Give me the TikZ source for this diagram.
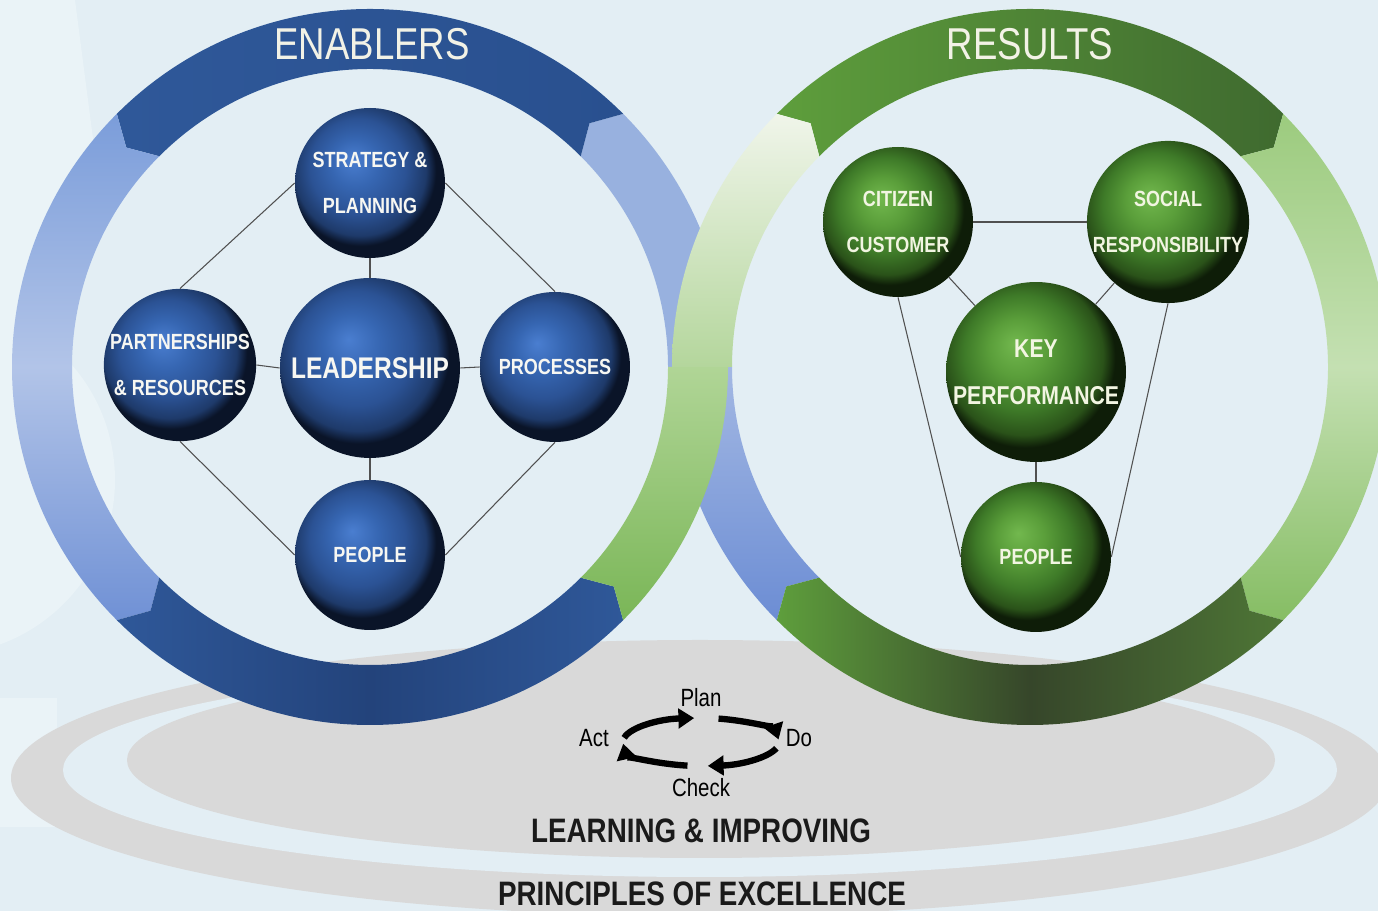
\documentclass[tikz,border=0pt]{standalone}
\usepackage{fontspec}
\newfontfamily\narrowfont[FakeStretch=0.82]{Liberation Sans}
\usepackage{xcolor}
\usetikzlibrary{calc,positioning,arrows.meta}

\definecolor{bgcol}{HTML}{E3EEF4}
\definecolor{markcol}{HTML}{EAF3F7}
\definecolor{basegray}{HTML}{D9D9D9}
\definecolor{linkgray}{HTML}{505050}
\definecolor{titletext}{HTML}{F2F2E6}
\definecolor{spheretext}{HTML}{F7F7F2}
\definecolor{spheretextg}{HTML}{F2F5E2}
\definecolor{basetext}{HTML}{1A1A1A}
% sphere colours
\definecolor{sbhi}{HTML}{4A7ED0}
\definecolor{sbmid}{HTML}{3666B2}
\definecolor{sbmain}{HTML}{2B5294}
\definecolor{sbdeep}{HTML}{1E3A6A}
\definecolor{sbedge}{HTML}{0A1428}
\definecolor{sghi}{HTML}{72B84E}
\definecolor{sgmid}{HTML}{5A9E3A}
\definecolor{sgmain}{HTML}{3E7A28}
\definecolor{sgdeep}{HTML}{2A5219}
\definecolor{sgedge}{HTML}{0E1D08}
% ring colours
\definecolor{bdarkA}{HTML}{2F5899}
\definecolor{bdarkB}{HTML}{23437B}
\definecolor{bdarkC}{HTML}{29508F}
\definecolor{blightA}{HTML}{7B9DDA}
\definecolor{blightB}{HTML}{B2C4E8}
\definecolor{blightC}{HTML}{7091D5}
\definecolor{bupper}{HTML}{98B1DF}
\definecolor{blowA}{HTML}{A3B8E3}
\definecolor{blowB}{HTML}{6C8DD4}
\definecolor{gdarkA}{HTML}{5E9E3C}
\definecolor{gdarkB}{HTML}{3F6A2F}
\definecolor{gdarkC}{HTML}{36462A}
\definecolor{gdarkD}{HTML}{4E7636}
\definecolor{glightA}{HTML}{9CCB7E}
\definecolor{glightB}{HTML}{C4E0B2}
\definecolor{glightC}{HTML}{86BD64}
\definecolor{gupA}{HTML}{F0F5EA}
\definecolor{gupB}{HTML}{B4D69C}
\definecolor{glowA}{HTML}{B0D596}
\definecolor{glowB}{HTML}{7AB657}

\pgfdeclareradialshading{bluesph}{\pgfpoint{-6bp}{8bp}}{%
  color(0bp)=(sbhi); color(8bp)=(sbmid); color(16bp)=(sbmain);
  color(22bp)=(sbdeep); color(25bp)=(sbedge); color(50bp)=(sbedge)}
\pgfdeclareradialshading{greensph}{\pgfpoint{-6bp}{8bp}}{%
  color(0bp)=(sghi); color(8bp)=(sgmid); color(16bp)=(sgmain);
  color(22bp)=(sgdeep); color(25bp)=(sgedge); color(50bp)=(sgedge)}

% ring geometry (picture units)
\def\ringout{358}
\def\ringin{298}
\def\ringmid{328}
% #1 fill, #2 centre, #3 from, #4 to, #5 notch offset, #6 tip offset
\newcommand{\ringseg}[6]{%
  \pgfmathsetmacro{\segtip}{#4+(#6)}%
  \pgfmathsetmacro{\segnotch}{#3+(#5)}%
  \path[#1] ($(#2)+(#3:\ringout)$) arc[start angle=#3, end angle=#4, radius=\ringout]
    -- ($(#2)+(\segtip:\ringmid)$) -- ($(#2)+(#4:\ringin)$)
    arc[start angle=#4, end angle=#3, radius=\ringin]
    -- ($(#2)+(\segnotch:\ringmid)$) -- cycle;}

\begin{document}
\begin{tikzpicture}[x=0.02cm, y=0.02cm,
	sphere/.style = {circle, inner sep=0pt, minimum size=3cm, align=center,
		font=\narrowfont\bfseries\fontsize{12.5}{26}\selectfont},
	bluesphere/.style = {sphere, shade, shading=bluesph, text=spheretext},
	greensphere/.style = {sphere, shade, shading=greensph, text=spheretextg},
	bigsphere/.style = {minimum size=3.6cm},
	link/.style = {draw=linkgray, line width=0.6pt},
	ringtitle/.style = {font=\narrowfont\fontsize{25.4}{30}\selectfont,
		text=titletext, anchor=base},
	pdcalabel/.style = {font=\narrowfont\fontsize{14.2}{17}\selectfont,
		anchor=base, inner sep=1pt},
	pdcaarrow/.style = {line width=3.6pt, -{Triangle[length=9pt,width=11pt]}},
	basetitle/.style = {font=\narrowfont\bfseries\fontsize{19.3}{23}\selectfont,
		text=basetext, anchor=base}]

	% background and faint watermark
	\fill[bgcol] (0,0) rectangle (1378,911);
	\useasboundingbox (0,0) rectangle (1378,911);
	\clip (0,0) rectangle (1378,911);
	\fill[markcol] (0,911) -- (75,911) -- (105,680) -- (0,545) -- cycle;
	\fill[markcol] (-60,431) circle[radius=175];
	\fill[markcol] (0,84) rectangle (57,213);

	% base ellipses
	\fill[basegray] (700,133) ellipse[x radius=689, y radius=138];
	\fill[bgcol] (700,141) ellipse[x radius=637, y radius=107];
	\fill[basegray] (701,151) ellipse[x radius=574, y radius=98];

	% rings
	\coordinate (L) at (370,544);
	\coordinate (R) at (1030,544);
	% blue strand (under)
	\ringseg{fill=bupper}{L}{0}{45}{0}{3}
	\ringseg{top color=blowA, bottom color=blowB}{R}{225}{180}{-3}{0}
	% enablers ring
	\ringseg{left color=bdarkA, right color=bdarkC}{L}{45}{135}{3}{3}
	\ringseg{top color=blightA, bottom color=blightC, middle color=blightB}{L}{135}{225}{3}{3}
	\ringseg{left color=bdarkA, right color=bdarkA, middle color=bdarkB}{L}{225}{315}{3}{3}
	% results ring
	\ringseg{left color=gdarkA, right color=gdarkB}{R}{135}{45}{-3}{-3}
	\ringseg{top color=glightA, bottom color=glightC, middle color=glightB}{R}{45}{-45}{-3}{-3}
	\ringseg{left color=gdarkA, right color=gdarkD, middle color=gdarkC}{R}{-45}{-135}{-3}{-3}
	% green strand (over)
	\ringseg{top color=glowA, bottom color=glowB}{L}{-45}{0}{3}{0}
	\ringseg{top color=gupA, bottom color=gupB}{R}{180}{135}{0}{-3}

	\node[ringtitle] (enablers) at (372,851) {ENABLERS};
	\node[ringtitle] (results) at (1030,851) {RESULTS};

	% enablers
	\node[bluesphere] (strat) at (370,728) {STRATEGY \&\\PLANNING};
	\node[bluesphere, bigsphere, font=\narrowfont\bfseries\fontsize{17}{20}\selectfont]
		(lead) at (370,543) {LEADERSHIP};
	\node[bluesphere] (partner) at (180,546) {PARTNERSHIPS\\\& RESOURCES};
	\node[bluesphere] (proc) at (555,544) {PROCESSES};
	\node[bluesphere] (peopleL) at (370,356) {PEOPLE};

	\draw[link] (strat.west) -- (partner.north);
	\draw[link] (strat.east) -- (proc.north);
	\draw[link] (partner.south) -- (peopleL.west);
	\draw[link] (proc.south) -- (peopleL.east);
	\draw[link] (strat.south) -- (lead.north);
	\draw[link] (lead.south) -- (peopleL.north);
	\draw[link] (partner.east) -- (lead.west);
	\draw[link] (lead.east) -- (proc.west);

	% results
	\node[greensphere] (citizen) at (898,689) {CITIZEN\\CUSTOMER};
	\node[greensphere] (social) at (1168,689) {SOCIAL\\RESPONSIBILITY};
	\node[greensphere, bigsphere, font=\narrowfont\bfseries\fontsize{14.7}{27}\selectfont]
		(keyperf) at (1036,539) {KEY\\PERFORMANCE};
	\node[greensphere] (peopleR) at (1036,354) {PEOPLE};

	\draw[link] (citizen.east) -- (social.west);
	\draw[link] (citizen) -- (keyperf);
	\draw[link] (social) -- (keyperf);
	\draw[link] (keyperf.south) -- (peopleR.north);
	\draw[link] (citizen.south) -- (peopleR.west);
	\draw[link] (social.south) -- (peopleR.east);

	% plan do check act
	\node[pdcalabel] (plan) at (701,204) {Plan};
	\node[pdcalabel] (act) at (594,164) {Act};
	\node[pdcalabel] (do) at (799,164) {Do};
	\node[pdcalabel] (check) at (701,114) {Check};
	\coordinate (pdca) at (701,169);
	\foreach \s/\e in {170/95, 77/6, -15/-85, -100/-176}
		\draw[pdcaarrow] (pdca) ++(\s:78 and 24)
			arc[start angle=\s, end angle=\e, x radius=78, y radius=24];

	\node[basetitle] (learning) at (701,68) {LEARNING \& IMPROVING};
	\node[basetitle] (principles) at (702,5) {PRINCIPLES OF EXCELLENCE};
\end{tikzpicture}
\end{document}
